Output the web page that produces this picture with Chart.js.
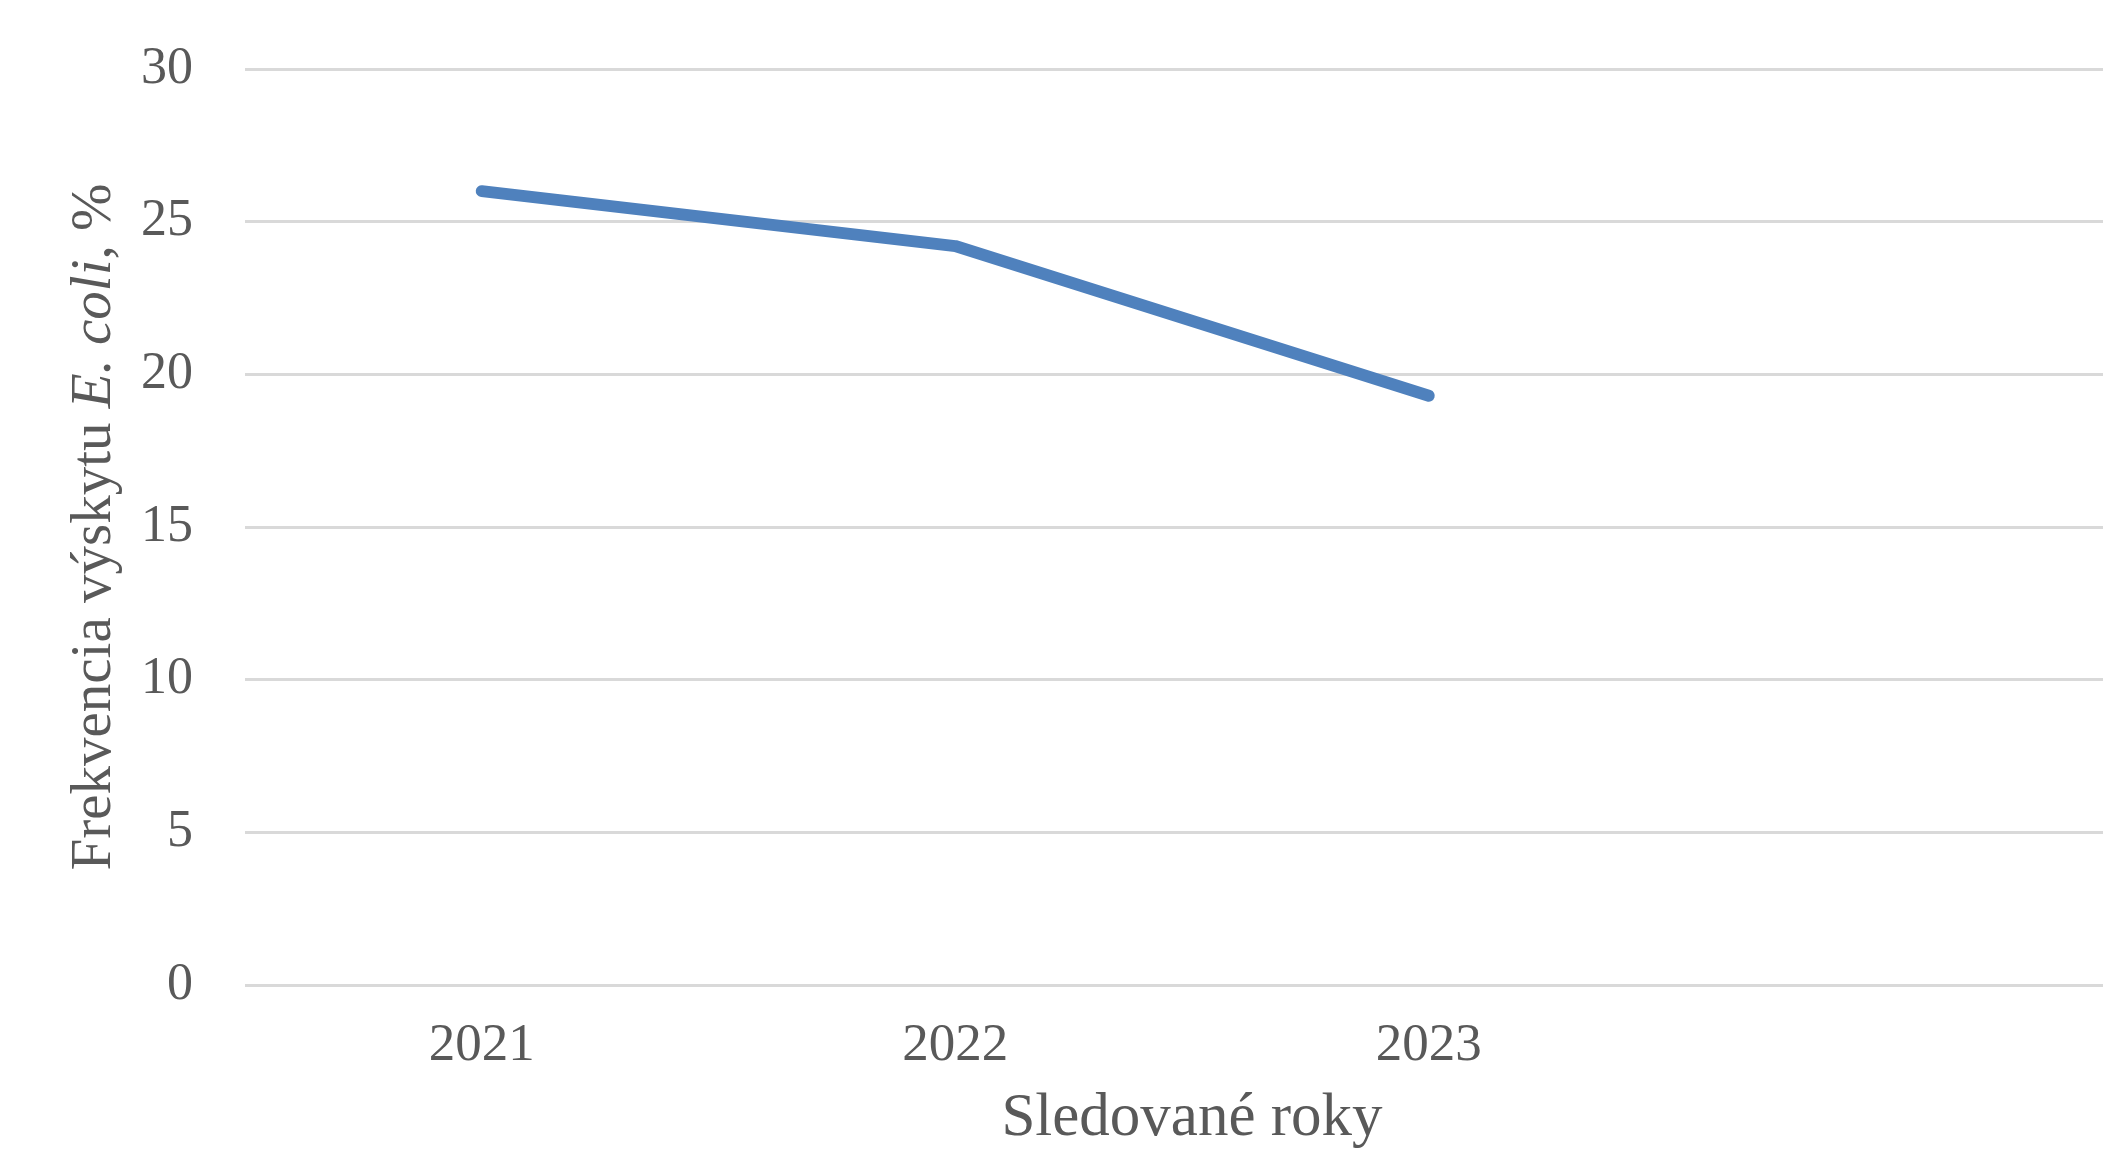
<!DOCTYPE html>
<html lang="sk">
<head>
<meta charset="utf-8">
<title>Frekvencia výskytu E. coli</title>
<script src="https://cdn.jsdelivr.net/npm/chart.js@4/dist/chart.umd.min.js"></script>
<style>
  html, body { margin: 0; padding: 0; background: #ffffff; overflow: hidden; }
  #wrap { position: relative; width: 2139px; height: 1153px; }
  #chart { display: block; }
</style>
</head>
<body>
<div id="wrap"><canvas id="chart" width="2139" height="1153"></canvas></div>
<script>
// Sledované roky (the last slot is an empty category)
const years = ['2021', '2022', '2023', ''];
// Frekvencia výskytu E. coli, %
const frequency = [26.0, 24.2, 19.3, null];
// Y-axis ticks
const yTicks = [0, 5, 10, 15, 20, 25, 30];

const textColor = '#595959';
const serif = "'Liberation Serif', 'Times New Roman', serif";

// Rotated y-axis title with the species name set in italics
const yTitle = [
  { text: 'Frekvencia výskytu ', italic: false },
  { text: 'E. coli', italic: true },
  { text: ', %', italic: false }
];

const yTitlePlugin = {
  id: 'yTitle',
  afterDraw(chart) {
    const ctx = chart.ctx;
    const size = 57;
    const fontFor = (p) => (p.italic ? 'italic ' : '') + size + 'px ' + serif;
    ctx.save();
    let total = 0;
    const widths = yTitle.map(p => { ctx.font = fontFor(p); const w = ctx.measureText(p.text).width; total += w; return w; });
    const area = chart.chartArea;
    const cy = (area.top + area.bottom) / 2;
    ctx.translate(110, cy);
    ctx.rotate(-Math.PI / 2);
    ctx.fillStyle = textColor;
    ctx.textBaseline = 'alphabetic';
    ctx.textAlign = 'left';
    let x = -total / 2;
    yTitle.forEach((p, i) => { ctx.font = fontFor(p); ctx.fillText(p.text, x, 0); x += widths[i]; });
    ctx.restore();
  }
};

new Chart(document.getElementById('chart'), {
  type: 'line',
  data: {
    labels: years,
    datasets: [{
      label: 'Frekvencia výskytu E. coli, %',
      data: frequency,
      borderColor: '#4F81BD',
      backgroundColor: '#4F81BD',
      borderWidth: 12,
      borderCapStyle: 'round',
      borderJoinStyle: 'round',
      pointRadius: 0,
      pointHoverRadius: 0,
      tension: 0,
      fill: false
    }]
  },
  options: {
    responsive: false,
    animation: false,
    devicePixelRatio: 1,
    layout: { padding: { top: 69, right: 0, bottom: 0, left: 0 } },
    plugins: {
      legend: { display: false },
      tooltip: { enabled: false }
    },
    scales: {
      x: {
        type: 'category',
        offset: true,
        grid: { display: false, drawTicks: false },
        border: { display: false },
        ticks: {
          color: textColor,
          font: { family: serif, size: 53 },
          padding: 29,
          maxRotation: 0,
          autoSkip: false
        },
        title: {
          display: true,
          text: 'Sledované roky',
          color: textColor,
          font: { family: serif, size: 61, lineHeight: 1.0 },
          padding: { top: 0, bottom: 4 }
        },
        afterFit(scale) { scale.height = 168; }
      },
      y: {
        min: 0,
        max: 30,
        afterBuildTicks(scale) { scale.ticks = yTicks.map(v => ({ value: v })); },
        grid: { color: '#d9d9d9', lineWidth: 3, drawTicks: false },
        border: { display: false },
        ticks: {
          color: textColor,
          font: { family: serif, size: 52 },
          padding: 52
        },
        afterFit(scale) {
          scale.width = 245;
          scale.paddingTop = 0;
          scale.paddingBottom = 0;
        }
      }
    }
  },
  plugins: [yTitlePlugin]
});
</script>
</body>
</html>
